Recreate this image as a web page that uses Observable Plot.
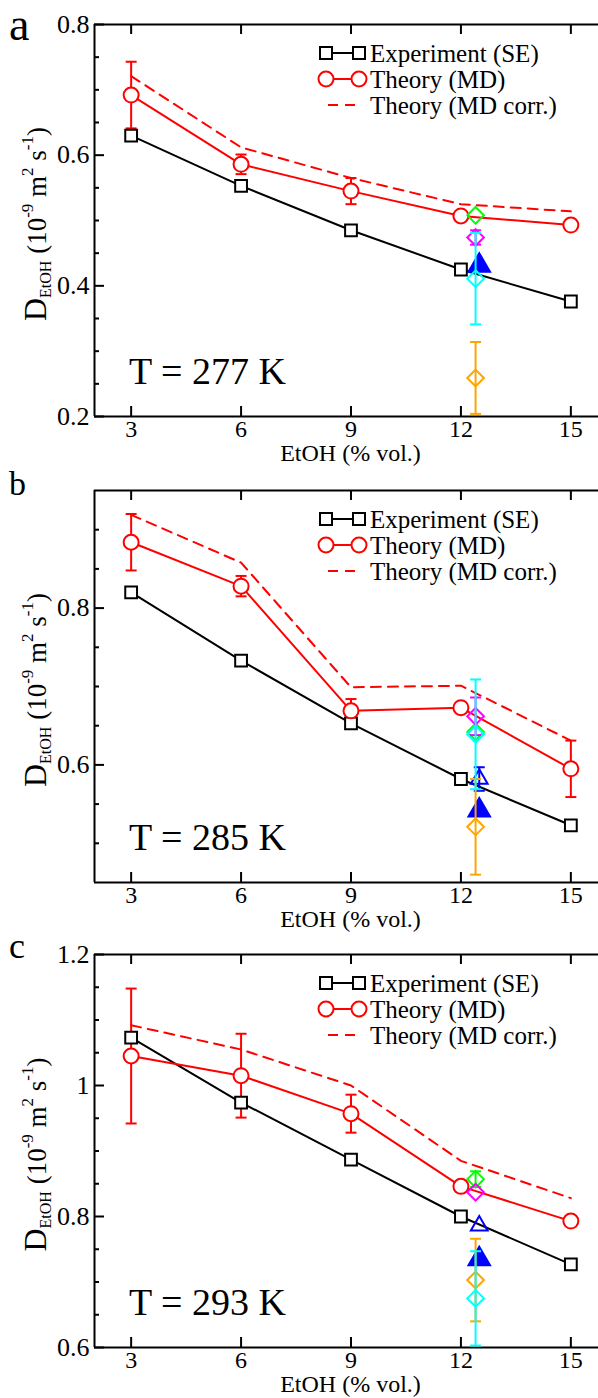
<!DOCTYPE html>
<html><head><meta charset="utf-8">
<script src="https://cdn.jsdelivr.net/npm/d3@7"></script>
<script src="https://cdn.jsdelivr.net/npm/@observablehq/plot@0.6"></script>
<style>
body{margin:0;background:#fff;}
#chart{width:598px;height:1398px;overflow:hidden;}
#chart svg{display:block;}
</style></head><body><div id="chart"></div>
<script>
// ---- data ----
const etoh = [3, 6, 9, 12, 15];
const xTicks = [3, 6, 9, 12, 15];
const panelLetters = ["a", "b", "c"];
const temperatureLabels = ["T = 277 K", "T = 285 K", "T = 293 K"];
const yDomains = [[0.2, 0.8], [0.45, 0.95], [0.6, 1.2]];
const yMajorTicks = [[0.2, 0.4, 0.6, 0.8], [0.6, 0.8], [0.6, 0.8, 1, 1.2]];
const yMinorTicks = [
  [0.25, 0.3, 0.35, 0.45, 0.5, 0.55, 0.65, 0.7, 0.75],
  [0.5, 0.55, 0.65, 0.7, 0.75, 0.85, 0.9],
  [0.65, 0.7, 0.75, 0.85, 0.9, 0.95, 1.05, 1.1, 1.15]
];
const legendLabels = ["Experiment (SE)", "Theory (MD)", "Theory (MD corr.)"];
const xLabel = "EtOH (% vol.)";

// Experiment (SE)
const expA = [0.630, 0.553, 0.485, 0.425, 0.376];
const expB = [0.820, 0.733, 0.653, 0.582, 0.523];
const expC = [1.073, 0.974, 0.887, 0.800, 0.727];
// Theory (MD) with error
const mdA = [0.692, 0.586, 0.545, 0.507, 0.493];
const mdErrA = [0.051, 0.015, 0.020, 0, 0];
const mdB = [0.884, 0.828, 0.669, 0.673, 0.595];
const mdErrB = [0.036, 0.013, 0.015, 0, 0.036];
const mdC = [1.045, 1.015, 0.957, 0.846, 0.793];
const mdErrC = [0.103, 0.064, 0.029, 0, 0];
// Theory (MD corr.)
const corrA = [0.721, 0.612, 0.565, 0.525, 0.514];
const corrB = [0.919, 0.858, 0.699, 0.701, 0.631];
const corrC = [1.092, 1.055, 1.000, 0.885, 0.828];

// extra reference points near 12.5 % vol. (panels a, b, c)
const extraNames = ["blueFilled", "blueOpen", "orange", "green", "magenta", "cyan"];
const extraX = [12.5, 12.5, 12.4, 12.4, 12.4, 12.4];
const extraValues = [
  [0.431, 0.542, 0.735],
  [null, 0.582, 0.786],
  [0.259, 0.521, 0.703],
  [0.508, 0.642, 0.857],
  [0.474, 0.662, 0.837],
  [0.411, 0.639, 0.675]
];
const extraErrors = [
  [0, 0, 0],
  [0, 0.015, 0],
  [0.055, 0.061, 0.063],
  [0, 0, 0.012],
  [0.011, 0.024, 0],
  [0.070, 0.070, 0.072]
];

// ---- styles ----
const extraStyle = {
  blueFilled: {symbol: "triangle", stroke: "#0000ff", fill: "#0000ff", r: 8},
  blueOpen: {symbol: "triangle2", stroke: "#0000ff", fill: "none", r: 8},
  orange: {symbol: "diamond2", stroke: "#ffa500", fill: "none", r: 7.5},
  green: {symbol: "diamond2", stroke: "#00ff00", fill: "none", r: 7.5},
  magenta: {symbol: "diamond2", stroke: "#ff00ff", fill: "none", r: 7.5},
  cyan: {symbol: "diamond2", stroke: "#00ffff", fill: "none", r: 7.5}
};
const expSeries = [expA, expB, expC];
const mdSeries = [mdA, mdB, mdC];
const mdErrSeries = [mdErrA, mdErrB, mdErrC];
const corrSeries = [corrA, corrB, corrC];
const margins = [{t: 24, b: 50}, {t: 24, b: 50}, {t: 22, b: 51}];
const letterStyle = [{size: 46, y: 40}, {size: 34, y: 29}, {size: 36, y: 26}];
const W = 598, H = 466, ML = 94, MR = -9;
const FONT = "'Liberation Serif', 'Times New Roman', Times, serif";

const capSymbol = {draw(ctx, size) { const w = Math.sqrt(size / Math.PI); ctx.moveTo(-w, 0); ctx.lineTo(w, 0); }};

function rows(xs, vals, errs) {
  return xs.map((x, i) => ({x, v: vals[i], e: errs ? errs[i] : 0})).filter(d => d.v != null);
}

function errorMarks(data, color) {
  const ed = data.filter(d => d.e > 0);
  return [
    Plot.ruleX(ed, {x: "x", y1: d => d.v - d.e, y2: d => d.v + d.e, stroke: color, strokeWidth: 2}),
    Plot.dot(ed, {x: "x", y: d => d.v - d.e, symbol: capSymbol, r: 5.5, stroke: color, fill: "none", strokeWidth: 2}),
    Plot.dot(ed, {x: "x", y: d => d.v + d.e, symbol: capSymbol, r: 5.5, stroke: color, fill: "none", strokeWidth: 2})
  ];
}

function buildPanel(p) {
  const m = margins[p];
  const innerW = W - ML - MR, innerH = H - m.t - m.b;
  const exp = rows(etoh, expSeries[p]);
  const md = rows(etoh, mdSeries[p], mdErrSeries[p]);
  const corr = rows(etoh, corrSeries[p]);
  const extraMarks = [];
  extraNames.forEach((name, k) => {
    const d = rows([extraX[k]], [extraValues[k][p]], [extraErrors[k][p]]);
    const s = extraStyle[name];
    extraMarks.push(...errorMarks(d, s.stroke));
    extraMarks.push(Plot.dot(d, {x: "x", y: "v", symbol: s.symbol, r: s.r, stroke: s.stroke, fill: s.fill, strokeWidth: 2}));
  });
  const plot = Plot.plot({
    width: W, height: H,
    marginTop: m.t, marginBottom: m.b, marginLeft: ML, marginRight: MR,
    x: {domain: [2, 16]},
    y: {domain: yDomains[p]},
    style: {fontFamily: FONT, fontSize: "25px", background: "white", color: "black", overflow: "visible"},
    marks: [
      Plot.axisX({ticks: xTicks, tickSize: 0, tickPadding: 3, label: null, fontSize: 24}),
      Plot.axisY({ticks: yMajorTicks[p], tickSize: 0, tickPadding: 5, tickFormat: d => String(d), label: null, fontSize: 26}),
      Plot.tickY(yMajorTicks[p], {y: d => d, insetRight: innerW - 10, stroke: "black", strokeWidth: 2}),
      Plot.tickY(yMinorTicks[p], {y: d => d, insetRight: innerW - 5, stroke: "black", strokeWidth: 2}),
      Plot.tickX(xTicks, {x: d => d, insetTop: innerH - 10, stroke: "black", strokeWidth: 2}),
      Plot.tickX(xTicks, {x: d => d, insetBottom: innerH - 10, stroke: "black", strokeWidth: 2}),
      Plot.ruleY([yDomains[p][0], yDomains[p][1]], {stroke: "black", strokeWidth: 2}),
      Plot.ruleX([2], {stroke: "black", strokeWidth: 2}),
      Plot.line(corr, {x: "x", y: "v", stroke: "#ff0000", strokeWidth: 2, strokeDasharray: "10,7"}),
      Plot.line(exp, {x: "x", y: "v", stroke: "black", strokeWidth: 2}),
      Plot.line(md, {x: "x", y: "v", stroke: "#ff0000", strokeWidth: 2}),
      ...errorMarks(md, "#ff0000"),
      Plot.dot(exp, {x: "x", y: "v", symbol: "square2", r: 7.5, stroke: "black", fill: "white", strokeWidth: 2}),
      Plot.dot(md, {x: "x", y: "v", symbol: "circle", r: 7.5, stroke: "#ff0000", fill: "white", strokeWidth: 2}),
      ...extraMarks
    ]
  });
  const svg = d3.select(plot);
  const top = m.t, bottom = H - m.b, cy = (top + bottom) / 2;
  // x-axis title
  svg.append("text").attr("x", (ML + W - MR) / 2).attr("y", bottom + 45).attr("text-anchor", "middle")
    .attr("font-family", FONT).attr("font-size", 24).text(xLabel);
  // panel letter
  svg.append("text").attr("x", 9).attr("y", letterStyle[p].y).attr("text-anchor", "start")
    .attr("font-family", FONT).attr("font-size", letterStyle[p].size).text(panelLetters[p]);
  // temperature annotation
  svg.append("text").attr("x", 129).attr("y", bottom - 32).attr("text-anchor", "start")
    .attr("font-family", FONT).attr("font-size", 38).text(temperatureLabels[p]);
  // y-axis title
  const t = svg.append("text").attr("transform", `translate(46,${cy + 4}) rotate(-90)`)
    .attr("text-anchor", "middle").attr("font-family", FONT).attr("font-size", 27);
  t.append("tspan").attr("font-size", 32).text("D");
  t.append("tspan").attr("font-size", 16).attr("dy", 5).text("EtOH");
  t.append("tspan").attr("dy", -5).text(" (10");
  t.append("tspan").attr("font-size", 17).attr("dy", -13).text("-9");
  t.append("tspan").attr("dy", 13).text(" m");
  t.append("tspan").attr("font-size", 17).attr("dy", -13).text("2");
  t.append("tspan").attr("dy", 13).text(" s");
  t.append("tspan").attr("font-size", 17).attr("dy", -13).text("-1");
  t.append("tspan").attr("dy", 13).text(")");
  // legend
  const lg = svg.append("g").attr("font-family", FONT).attr("font-size", 25).attr("text-anchor", "start");
  const rowY = [top + 29, top + 55, top + 81];
  lg.append("line").attr("x1", 326).attr("x2", 359).attr("y1", rowY[0]).attr("y2", rowY[0]).attr("stroke", "black").attr("stroke-width", 2);
  [326, 359].forEach(x => lg.append("rect").attr("x", x - 6).attr("y", rowY[0] - 6).attr("width", 12).attr("height", 12)
    .attr("fill", "white").attr("stroke", "black").attr("stroke-width", 2));
  lg.append("line").attr("x1", 326).attr("x2", 359).attr("y1", rowY[1]).attr("y2", rowY[1]).attr("stroke", "#ff0000").attr("stroke-width", 2);
  [326, 359].forEach(x => lg.append("circle").attr("cx", x).attr("cy", rowY[1]).attr("r", 7.5)
    .attr("fill", "white").attr("stroke", "#ff0000").attr("stroke-width", 2));
  lg.append("line").attr("x1", 328).attr("x2", 358).attr("y1", rowY[2]).attr("y2", rowY[2]).attr("stroke", "#ff0000")
    .attr("stroke-width", 2).attr("stroke-dasharray", "10,7");
  legendLabels.forEach((s, i) => lg.append("text").attr("x", 370).attr("y", rowY[i]).attr("dy", "0.35em").attr("text-anchor", "start").text(s));
  return plot;
}

const chart = document.getElementById("chart");
[0, 1, 2].forEach(p => chart.appendChild(buildPanel(p)));
</script>
</body></html>
